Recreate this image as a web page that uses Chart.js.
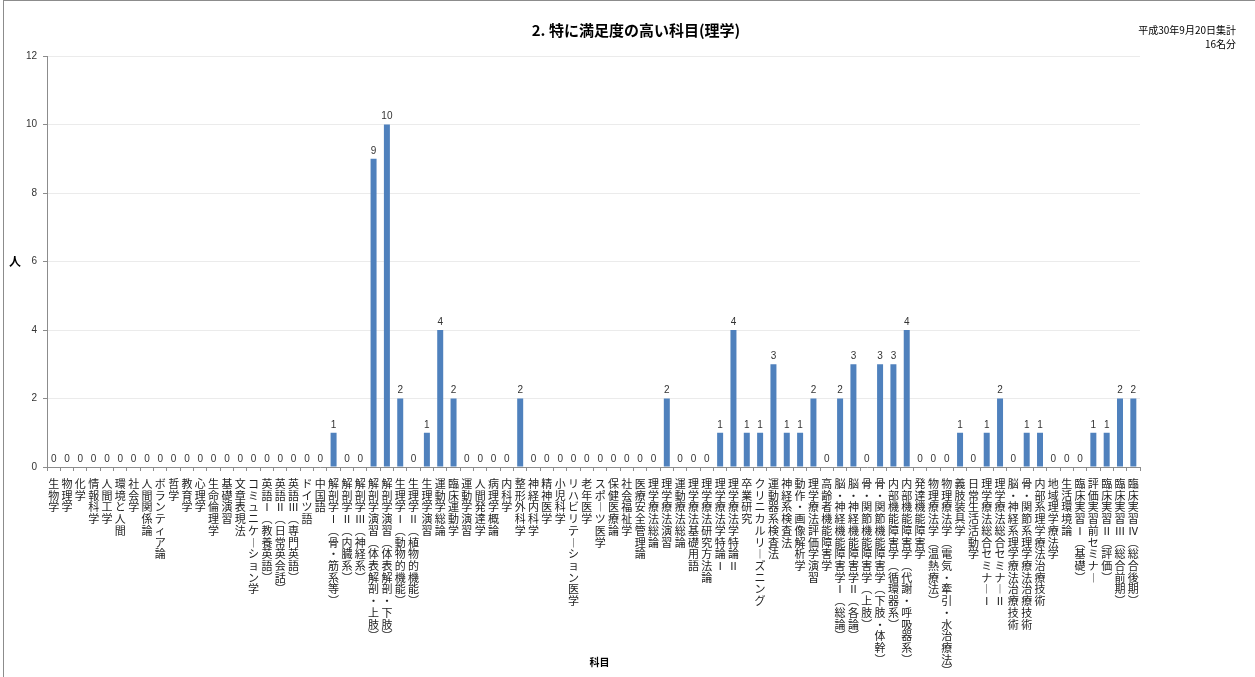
<!DOCTYPE html>
<html>
<head>
<meta charset="utf-8">
<script src="https://cdn.jsdelivr.net/npm/chart.js@4/dist/chart.umd.min.js"></script>
<style>
  body { margin: 0; background: #fff; }
  #wrap { position: relative; width: 1255px; height: 677px; overflow: hidden; }
  #frame { position: absolute; left: 3px; top: 0; width: 1400px; height: 800px; border: 1px solid #8c8c8c; pointer-events: none; }
</style>
</head>
<body>
<div id="wrap">
  <canvas id="chart" width="1255" height="677"></canvas>
  <div id="frame"></div>
</div>
<script>
const chartTitle = '2. 特に満足度の高い科目(理学)';
const noteLines = ['平成30年9月20日集計', '16名分'];
const yTitle = '人';
const xTitle = '科目';

const categories = [
  '生物学', '物理学', '化学', '情報科学', '人間工学', '環境と人間', '社会学', '人間関係論',
  'ボランティア論', '哲学', '教育学', '心理学', '生命倫理学', '基礎演習', '文章表現法',
  'コミュニケーション学', '英語Ⅰ(教養英語)', '英語Ⅱ(日常英会話)', '英語Ⅲ(専門英語)', 'ドイツ語',
  '中国語', '解剖学Ⅰ(骨・筋系等)', '解剖学Ⅱ(内臓系)', '解剖学Ⅲ(神経系)',
  '解剖学演習(体表解剖・上肢)', '解剖学演習(体表解剖・下肢)', '生理学Ⅰ(動物的機能)',
  '生理学Ⅱ(植物的機能)', '生理学演習', '運動学総論', '臨床運動学', '運動学演習', '人間発達学',
  '病理学概論', '内科学', '整形外科学', '神経内科学', '精神医学', '小児科学',
  'リハビリテーション医学', '老年医学', 'スポーツ医学', '保健医療論', '社会福祉学',
  '医療安全管理論', '理学療法総論', '理学療法演習', '運動療法総論', '理学療法基礎用語',
  '理学療法研究方法論', '理学療法学特論Ⅰ', '理学療法学特論Ⅱ', '卒業研究', 'クリニカルリーズニング',
  '運動器系検査法', '神経系検査法', '動作・画像解析学', '理学療法評価学演習', '高齢者機能障害学',
  '脳・神経機能障害学Ⅰ(総論)', '脳・神経機能障害学Ⅱ(各論)', '骨・関節機能障害学(上肢)',
  '骨・関節機能障害学(下肢・体幹)', '内部機能障害学(循環器系)', '内部機能障害学(代謝・呼吸器系)',
  '発達機能障害学', '物理療法学(温熱療法)', '物理療法学(電気・牽引・水治療法)', '義肢装具学',
  '日常生活活動学', '理学療法総合セミナーⅠ', '理学療法総合セミナーⅡ', '脳・神経系理学療法治療技術',
  '骨・関節系理学療法治療技術', '内部系理学療法治療技術', '地域理学療法学', '生活環境論',
  '臨床実習Ⅰ(基礎)', '評価実習前セミナー', '臨床実習Ⅱ(評価)', '臨床実習Ⅲ(総合前期)', '臨床実習Ⅳ(総合後期)'
];

const counts = [
  0, 0, 0, 0, 0, 0, 0, 0, 0, 0, 0, 0, 0, 0, 0, 0, 0, 0, 0, 0,
  0, 1, 0, 0, 9, 10, 2, 0, 1, 4, 2, 0, 0, 0, 0, 2, 0, 0, 0, 0,
  0, 0, 0, 0, 0, 0, 2, 0, 0, 0, 1, 4, 1, 1, 3, 1, 1, 2, 0, 2,
  3, 0, 3, 3, 4, 0, 0, 0, 1, 0, 1, 2, 0, 1, 1, 0, 0, 0, 1, 1,
  2, 2
];

const yMin = 0;
const yMax = 12;
const yStep = 2;

const cjk = "'Noto Sans CJK JP', 'Noto Sans', sans-serif";
const num = "'Liberation Sans', 'Noto Sans CJK JP', sans-serif";

// stack each character so the label reads top to bottom
function toVertical(s) {
  const swap = { '(': '︵', ')': '︶', 'ー': '︱' };
  return Array.from(s).map(ch => swap[ch] || ch);
}

const decor = {
  id: 'decor',
  afterDatasetsDraw(chart) {
    const c = chart.ctx;
    const area = chart.chartArea;
    const meta = chart.getDatasetMeta(0);
    c.save();
    c.fillStyle = '#333';
    c.font = '10px ' + num;
    c.textAlign = 'center';
    c.textBaseline = 'bottom';
    meta.data.forEach((bar, i) => {
      c.fillText(String(counts[i]), bar.x, bar.y - 3);
    });

    c.fillStyle = '#000';
    c.font = 'bold 15px ' + cjk;
    c.textBaseline = 'middle';
    c.fillText(chartTitle, 636, 30);

    c.font = '10px ' + cjk;
    c.textAlign = 'right';
    c.fillText(noteLines[0], 1236, 30);
    c.fillText(noteLines[1], 1236, 44);

    c.textAlign = 'center';
    c.font = 'bold 12px ' + cjk;
    c.fillText(yTitle, 15, (area.top + area.bottom) / 2);
    c.font = 'bold 10px ' + cjk;
    c.fillText(xTitle, (area.left + area.right) / 2 + 6, 662);
    c.restore();
  }
};

new Chart(document.getElementById('chart'), {
  type: 'bar',
  data: {
    labels: categories.map(toVertical),
    datasets: [{
      data: counts,
      backgroundColor: '#4f81bd',
      barPercentage: 0.45,
      categoryPercentage: 1
    }]
  },
  options: {
    responsive: false,
    animation: false,
    layout: { padding: { top: 56, right: 115, bottom: 0, left: 0 } },
    plugins: {
      legend: { display: false },
      tooltip: { enabled: false },
      title: { display: false }
    },
    scales: {
      x: {
        grid: { drawOnChartArea: false, tickLength: 4, tickColor: '#8c8c8c' },
        border: { color: '#8c8c8c' },
        ticks: {
          autoSkip: false,
          maxRotation: 0,
          minRotation: 0,
          padding: 7,
          color: '#222',
          font: { family: cjk, size: 11, lineHeight: 1.065 }
        },
        afterFit: s => { s.height = 210; }
      },
      y: {
        min: yMin,
        max: yMax,
        ticks: { stepSize: yStep, padding: 6, color: '#333', font: { family: num, size: 10 } },
        grid: { color: '#ebebeb', tickLength: 4, tickColor: '#8c8c8c' },
        border: { color: '#8c8c8c' },
        afterFit: s => { s.width = 47; }
      }
    }
  },
  plugins: [decor]
});
</script>
</body>
</html>
